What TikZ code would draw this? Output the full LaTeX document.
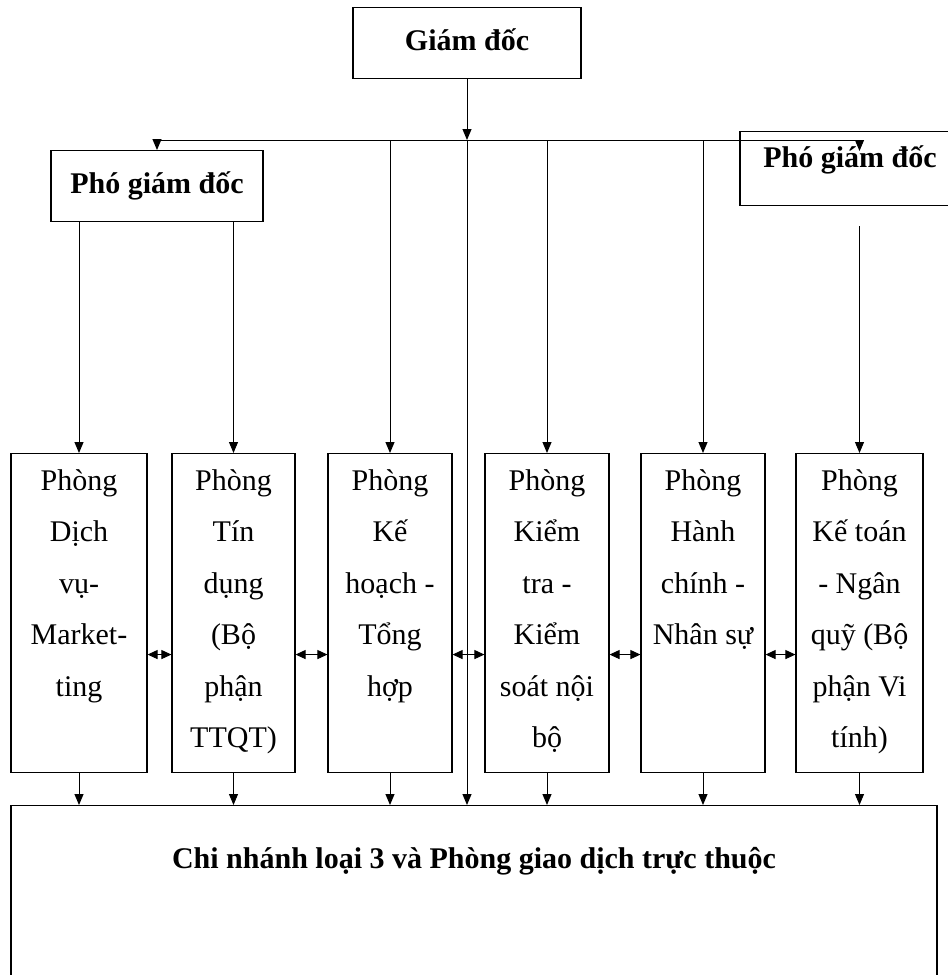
\documentclass[tikz,border=0pt]{standalone}
\usepackage{fontspec}
\setmainfont{Liberation Serif}
\usetikzlibrary{arrows.meta,positioning}

\tikzset{
  boss/.style={draw, line width=1.1pt, font=\fontsize{30}{36}\selectfont\bfseries,
               inner sep=0pt, anchor=north, text height=43pt, text depth=28pt},
  dept/.style={draw, line width=1.1pt, minimum height=319pt, anchor=north, inner sep=0pt},
  depttext/.style={align=center, font=\fontsize{30}{51.5}\selectfont, inner sep=0pt},
  arr/.style={line width=1pt, -{Triangle[length=11pt,width=9pt]}},
  dbl/.style={line width=1pt, {Triangle[length=10pt,width=9pt]}-{Triangle[length=10pt,width=9pt]}},
}

\begin{document}
\begin{tikzpicture}[x=1pt,y=-1pt]
\useasboundingbox (0,0) rectangle (948,975);
\clip (0,0) rectangle (948,975);

% ban giam doc
\node[boss, minimum width=228pt] (gd) at (467,7) {Giám đốc};
\node[boss, minimum width=212pt] (pgd1) at (157,150) {Phó giám đốc};
\node[boss, minimum width=220pt, text height=36pt, text depth=38pt] (pgd2) at (850,131) {Phó giám đốc};

% cac phong
\node[dept, minimum width=136pt] (d1) at (79,453) {};
\node[dept, minimum width=123pt] (d2) at (233.5,453) {};
\node[dept, minimum width=124pt] (d3) at (390,453) {};
\node[dept, minimum width=124pt] (d4) at (547,453) {};
\node[dept, minimum width=124pt] (d5) at (703,453) {};
\node[dept, minimum width=127pt] (d6) at (859.5,453) {};

\node[depttext, below=16pt of d1.north] (t1) {Phòng\\Dịch\\vụ-\\Market-\\ting};
\node[depttext, below=16pt of d2.north] (t2) {Phòng\\Tín\\dụng\\(Bộ\\phận\\TTQT)};
\node[depttext, below=16pt of d3.north] (t3) {Phòng\\Kế\\hoạch -\\Tổng\\hợp};
\node[depttext, below=16pt of d4.north] (t4) {Phòng\\Kiểm\\tra -\\Kiểm\\soát nội\\bộ};
\node[depttext, below=16pt of d5.north] (t5) {Phòng\\Hành\\chính -\\Nhân sự};
\node[depttext, below=16pt of d6.north] (t6) {Phòng\\Kế toán\\- Ngân\\quỹ (Bộ\\phận Vi\\tính)};

% chi nhanh
\node[boss, minimum width=926pt, text height=63pt, text depth=130pt] (cn) at (474,805)
  {Chi nhánh loại 3 và Phòng giao dịch trực thuộc};

% duong noi
\coordinate (busL) at (pgd1.north |- 0,140);
\coordinate (busR) at (d6.north |- 0,140);
\coordinate (tipR) at (d6.north |- 0,151);
\draw[line width=1pt] (busL) -- (busR);
\draw[arr] (gd.south) -- (gd.south |- busL);
\draw[arr] (gd.south |- busL) -- (gd.south |- cn.north);
\draw[arr] (busL) -- (pgd1.north);
\draw[arr] (busR) -- (tipR);
\foreach \dep in {d3,d4,d5}
  \draw[arr] (\dep.north |- busL) -- (\dep.north);
\foreach \dep in {d1,d2}
  \draw[arr] (\dep.north |- pgd1.south) -- (\dep.north);
\draw[arr] ([yshift=-20pt]pgd2.south -| d6.north) -- (d6.north);
\foreach \i in {1,...,6}
  \draw[arr] (d\i.south) -- (d\i.south |- cn.north);
\foreach \a/\b in {d1/d2,d2/d3,d3/d4,d4/d5,d5/d6}
  \draw[dbl] ([yshift=-41.5pt]\a.east) -- ([yshift=-41.5pt]\b.west);
\end{tikzpicture}
\end{document}
